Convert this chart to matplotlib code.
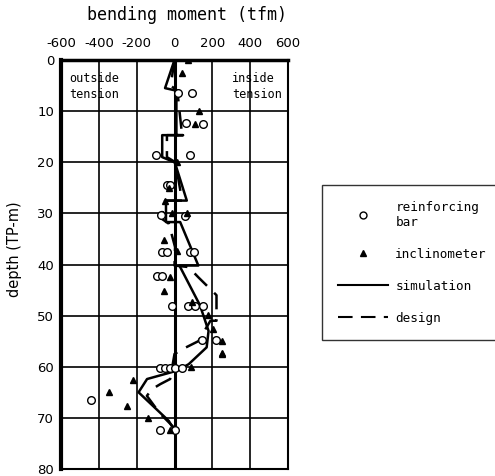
import matplotlib.pyplot as plt
from matplotlib.lines import Line2D

plt.rcParams['axes.unicode_minus'] = False

# reinforcing bar measurements (moment tfm, depth m)
bar_x = [17, 91, 59, 152, 82, -98, -40, -23, -72, 56, 82, 105, -65, -39,
         -93, -67, -14, 74, 109, 153, 147, 217, -75, -49, -23, 3, 38, -444, -75, 0]
bar_d = [6.4, 6.4, 12.4, 12.5, 18.6, 18.6, 24.5, 24.5, 30.4, 30.6, 37.6, 37.6, 37.6, 37.6,
         42.2, 42.2, 48.2, 48.2, 48.2, 48.2, 54.8, 54.8, 60.3, 60.3, 60.3, 60.3, 60.3, 66.5, 72.4, 72.4]

# inclinometer measurements
inc_x = [74, 38, 130, 109, 12, -30, -49, -14, 65, -58, 15, -23, -53, 91, 179, 205,
         252, 252, 249, 88, -221, -347, -251, -140, -23]
inc_d = [0, 2.6, 10, 12.5, 20, 25, 27.5, 30, 30, 35.2, 37.4, 42.4, 45.1, 47.4, 49.8, 52.6,
         54.9, 57.4, 57.5, 60, 62.6, 65, 67.6, 70.1, 72.4]

# simulation
sim_x = [0, -50, 10, 10, 45, -65, -65, 0, 10, 65, -45, -45, 30, 126, 25, 30, 135,
         180, 170, 75, 10, -145, -190, -30, 0]
sim_d = [0, 5.5, 6, 14.7, 14.7, 14.7, 19, 20, 21, 27.5, 27.5, 31.7, 31.7, 40.2, 40.2, 40.5, 48,
         53, 56.2, 59.5, 60.8, 62.4, 65, 70.6, 72.5]

# design
des_x = [0, -20, 15, 40, -40, -40, 5, 40, -50, -70, -30, 3, 0, 74, 126, 222, 222,
         190, 126, 56, 0, -23, -75, -120, -146, -80, 0]
des_d = [0, 5, 6, 14.7, 14.7, 19, 20, 27.5, 27.5, 31, 32, 36.6, 40.2, 40.5, 42.5, 46, 51,
         51, 55, 56.3, 57.5, 62.4, 63.4, 64.4, 65.7, 69, 72]

xticks = [-600, -400, -200, 0, 200, 400, 600]
yticks = [0, 10, 20, 30, 40, 50, 60, 70, 80]

mono = 'DejaVu Sans Mono'

fig = plt.figure(figsize=(4.95, 4.76), dpi=100)
ax = fig.add_axes([61 / 495, 7 / 476, 227 / 495, 409 / 476])

ax.set_xlim(-600, 600)
ax.set_ylim(80, 0)
ax.set_xticks(xticks)
ax.set_yticks(yticks)
ax.xaxis.tick_top()
ax.tick_params(length=0, labelsize=9.5, pad=5)
ax.tick_params(axis='x', pad=7)
ax.grid(True, color='black', linewidth=1.2)
ax.axvline(0, color='black', linewidth=2.2)
for s in ax.spines.values():
    s.set_linewidth(1.5)
ax.spines['left'].set_linewidth(3)
ax.spines['top'].set_linewidth(2.5)

ax.plot(sim_x, sim_d, color='black', linewidth=1.8)
ax.plot(des_x, des_d, color='black', linewidth=1.8, dashes=(7, 4))
ax.plot(bar_x, bar_d, 'o', mfc='white', mec='black', ms=5.5, mew=1)
ax.plot(inc_x, inc_d, '^', color='black', ms=5)

ax.text(-555, 2.3, 'outside\ntension', family=mono, fontsize=8.5, va='top', ha='left',
        linespacing=1.35)
ax.text(305, 2.3, 'inside\ntension', family=mono, fontsize=8.5, va='top', ha='left',
        linespacing=1.35)

fig.text(187 / 495, 1 - 15 / 476, 'bending moment (tfm)', family=mono, fontsize=12,
         ha='center', va='center')
fig.text(15 / 495, 1 - 249 / 476, 'depth (TP-m)', fontsize=10.5,
         ha='center', va='center', rotation=90)

handles = [
    Line2D([], [], marker='o', ls='none', mfc='white', mec='black', ms=5, mew=1),
    Line2D([], [], marker='^', ls='none', color='black', ms=5),
    Line2D([], [], color='black', lw=1.5),
    Line2D([], [], color='black', lw=1.5, dashes=(7, 4)),
]
labels = ['reinforcing\nbar', 'inclinometer', 'simulation', 'design']
leg = ax.legend(handles, labels, loc='upper left',
                bbox_to_anchor=(322 / 495, 1 - 340 / 476, 200 / 495, 155 / 476),
                bbox_transform=fig.transFigure, mode='expand', borderaxespad=0,
                frameon=True, fancybox=False, edgecolor='black',
                prop={'family': mono, 'size': 9.1},
                handlelength=4.0, labelspacing=1.5, borderpad=1.25, handletextpad=0.55)
leg.get_frame().set_linewidth(1)

fig.savefig('out.png', dpi=100)
